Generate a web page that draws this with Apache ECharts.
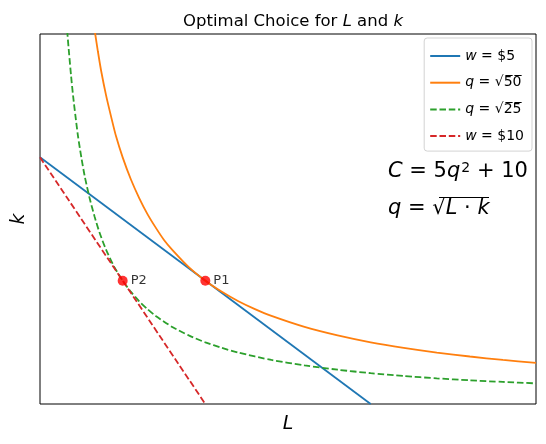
<!DOCTYPE html>
<html><head><meta charset="utf-8">
<script src="https://cdn.jsdelivr.net/npm/echarts@6/dist/echarts.min.js"></script>
<style>html,body{margin:0;padding:0;background:#fff}#c{width:546px;height:444px}</style>
</head><body><div id="c"></div>
<script>
// Data (L on x, k on y)
const budgetW5 = [[0, 20], [10, 0]];
const isoquant50 = [[1.5, 33.3], [1.6, 31.3], [1.67, 30], [1.75, 28.6], [1.85, 27], [2, 25], [2.15, 23.3], [2.3, 21.7], [2.5, 20], [2.75, 18.2], [3, 16.7], [3.25, 15.4], [3.5, 14.3], [3.75, 13.3], [4, 12.5], [4.5, 11.1], [5, 10], [5.5, 9.1], [6, 8.33], [6.5, 7.69], [7, 7.14], [8, 6.25], [9, 5.56], [10, 5], [11, 4.55], [12, 4.17], [13, 3.85], [14, 3.57], [15, 3.33]];
const isoquant25 = [[0.75, 33.3], [0.8, 31.3], [0.83, 30], [0.88, 28.4], [0.94, 26.6], [1, 25], [1.07, 23.4], [1.15, 21.7], [1.25, 20], [1.35, 18.5], [1.5, 16.7], [1.65, 15.2], [1.8, 13.9], [2, 12.5], [2.25, 11.1], [2.5, 10], [2.75, 9.09], [3, 8.33], [3.25, 7.69], [3.5, 7.14], [4, 6.25], [4.5, 5.56], [5, 5], [5.5, 4.55], [6, 4.17], [7, 3.57], [8, 3.13], [9, 2.78], [10, 2.5], [11, 2.27], [12, 2.08], [13, 1.92], [14, 1.79], [15, 1.67]];
const budgetW10 = [[0, 20], [5, 0]];
const optimumPoints = [[5, 10, 'P1'], [2.5, 10, 'P2']];
const xRange = [0, 15];
const yRange = [0, 30];

const legendLabels = {
  'w5': '{i|w} = $5',
  'q50': '{i|q} = √5̅0̅',
  'q25': '{i|q} = √2̅5̅',
  'w10': '{i|w} = $10'
};
const FONT = 'DejaVu Sans';

const chart = echarts.init(document.getElementById('c'), null, {renderer: 'canvas'});
function lineSeries(name, data, color, dashed) {
  return {
    name: name, type: 'line', data: data, symbol: 'none',
    smooth: 0.25,
    clip: true, silent: true, animation: false,
    lineStyle: {color: color, width: 1.8, type: dashed ? [6.5, 2.8] : 'solid'},
    itemStyle: {color: color}
  };
}
chart.setOption({
  animation: false,
  backgroundColor: '#fff',
  title: {
    text: 'Optimal Choice for {i|L} and {i|k}',
    left: 288, top: 8, textAlign: 'center',
    textStyle: {fontFamily: FONT, fontSize: 16.5, fontWeight: 'normal', color: '#000',
      rich: {i: {fontFamily: FONT, fontSize: 16.5, fontStyle: 'italic', color: '#000'}}}
  },
  grid: {left: 40, right: 10, top: 34, bottom: 40, show: true, borderColor: '#000', borderWidth: 1,
    containLabel: false, outerBoundsMode: 'none'},
  xAxis: {
    type: 'value', min: xRange[0], max: xRange[1],
    name: 'L', nameLocation: 'middle', nameGap: 11,
    nameTextStyle: {fontFamily: FONT, fontSize: 19, fontStyle: 'italic', color: '#000'},
    axisLabel: {show: false}, axisTick: {show: false}, splitLine: {show: false},
    axisLine: {show: false}
  },
  yAxis: {
    type: 'value', min: yRange[0], max: yRange[1],
    name: 'k', nameLocation: 'middle', nameGap: 11, nameRotate: 90,
    nameTextStyle: {fontFamily: FONT, fontSize: 19, fontStyle: 'italic', color: '#000'},
    axisLabel: {show: false}, axisTick: {show: false}, splitLine: {show: false},
    axisLine: {show: false}
  },
  legend: {
    orient: 'vertical', right: 14, top: 38,
    data: ['w5', 'q50', 'q25', 'w10'],
    itemWidth: 30, itemHeight: 12, itemGap: 12.7,
    padding: [11, 8, 8, 5],
    itemStyle: {opacity: 0},
    borderColor: '#d3d3d3', borderWidth: 1, borderRadius: 3,
    backgroundColor: '#fff',
    formatter: function (n) { return legendLabels[n]; },
    textStyle: {fontFamily: FONT, fontSize: 14, color: '#000',
      rich: {i: {fontFamily: FONT, fontSize: 14, fontStyle: 'italic', color: '#000'}}}
  },
  series: [
    lineSeries('w5', budgetW5, '#1f77b4', false),
    lineSeries('q50', isoquant50, '#ff7f0e', false),
    lineSeries('q25', isoquant25, '#2ca02c', true),
    lineSeries('w10', budgetW10, '#d62728', true),
    {
      name: 'points', type: 'scatter', data: optimumPoints, symbolSize: 10,
      itemStyle: {color: '#ff0000'}, z: 5,
      label: {show: true, position: 'right', distance: 3,
        formatter: function (p) { return p.data[2]; },
        fontFamily: FONT, fontSize: 13, color: '#000'}
    }
  ],
  graphic: [
    {type: 'text', left: 388, top: 161, style: {
      text: '{i|C} = 5{i|q}{s|2} + 10',
      fontFamily: FONT, fontSize: 21, fill: '#000',
      rich: {i: {fontFamily: FONT, fontSize: 21, fontStyle: 'italic'}, s: {fontFamily: FONT, fontSize: 14, verticalAlign: 'top', padding: [0, 0, 8, 1]}}
    }},
    {type: 'text', left: 388, top: 198, style: {
      text: '{i|q} = √{i|L} · {i|k}',
      fontFamily: FONT, fontSize: 21, fill: '#000',
      rich: {i: {fontFamily: FONT, fontSize: 21, fontStyle: 'italic'}}
    }},
    {type: 'line', shape: {x1: 439, y1: 197.5, x2: 489, y2: 197.5}, style: {stroke: '#000', lineWidth: 1.2}}
  ]
});
</script></body></html>
